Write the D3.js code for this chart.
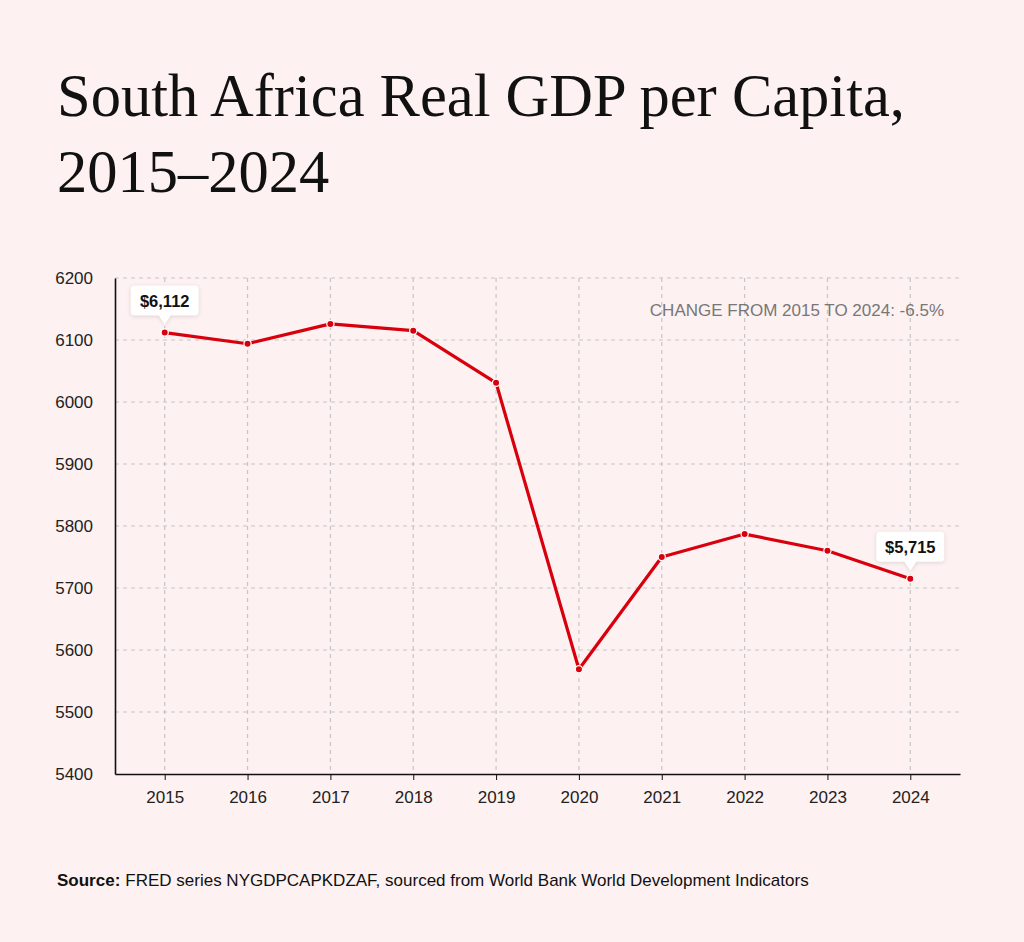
<!DOCTYPE html>
<html>
<head>
<meta charset="utf-8">
<script src="https://cdn.jsdelivr.net/npm/d3@7"></script>
<style>
  html, body { margin: 0; padding: 0; background: #fdf1f1; }
  svg { display: block; font-family: "Liberation Sans", Arial, sans-serif; }
  .title { font-family: "Liberation Serif", "Times New Roman", serif; font-size: 60.5px; fill: #111; }
  .grid line { stroke: #c6c6c6; stroke-dasharray: 4,4; stroke-width: 1.2; }
  .axis text { font-size: 17px; fill: #222; }
  .axis path, .axis line { stroke: #111; }
</style>
</head>
<body>
<svg id="chart" width="1024" height="942"></svg>
<script>
// data
const years = [2015, 2016, 2017, 2018, 2019, 2020, 2021, 2022, 2023, 2024];
const gdp = [6112, 6094, 6126, 6115, 6031, 5569, 5750, 5787, 5760, 5715];
const yTicks = [5400, 5500, 5600, 5700, 5800, 5900, 6000, 6100, 6200];
const callouts = [2015, 2024];

const W = 1024, H = 942;
const margin = {top: 278, right: 64, bottom: 168, left: 115};
const svg = d3.select("#chart");

svg.append("rect").attr("width", W).attr("height", H).attr("fill", "#fdf1f1");

// title
const title = svg.append("text").attr("class", "title").attr("x", 57).attr("y", 116);
title.append("tspan").attr("x", 57).text("South Africa Real GDP per Capita,");
title.append("tspan").attr("x", 57).attr("dy", 76).text("2015\u20132024");

const x = d3.scalePoint()
    .domain(years)
    .range([margin.left, W - margin.right])
    .padding(0.6);

const y = d3.scaleLinear()
    .domain([5400, 6200])
    .range([H - margin.bottom, margin.top]);

// grid
const grid = svg.append("g").attr("class", "grid");
grid.selectAll(".h").data(yTicks.slice(1)).join("line")
    .attr("x1", margin.left).attr("x2", W - margin.right)
    .attr("y1", d => y(d)).attr("y2", d => y(d));
grid.selectAll(".v").data(years).join("line")
    .attr("x1", d => x(d)).attr("x2", d => x(d))
    .attr("y1", margin.top).attr("y2", H - margin.bottom);

// axes
const yAxis = svg.append("g").attr("class", "axis")
    .attr("transform", `translate(${margin.left},0)`)
    .call(d3.axisLeft(y).tickValues(yTicks).tickSize(0).tickPadding(22).tickFormat(d3.format("d")));
yAxis.select(".domain").attr("stroke-width", 1.6);

const xAxis = svg.append("g").attr("class", "axis")
    .attr("transform", `translate(0,${H - margin.bottom})`)
    .call(d3.axisBottom(x).tickSize(6).tickPadding(11).tickSizeOuter(0));
xAxis.select(".domain").attr("stroke-width", 1.6);

// line
const line = d3.line()
    .x((d, i) => x(years[i]))
    .y(d => y(d));

svg.append("path")
    .datum(gdp)
    .attr("fill", "none")
    .attr("stroke", "#d9000d")
    .attr("stroke-width", 3.2)
    .attr("stroke-linejoin", "round")
    .attr("d", line);

svg.selectAll(".dot").data(gdp).join("circle")
    .attr("cx", (d, i) => x(years[i]))
    .attr("cy", d => y(d))
    .attr("r", 3.6)
    .attr("fill", "#d9000d")
    .attr("stroke", "#fff")
    .attr("stroke-width", 1.2);

// callout boxes
const fmt = d3.format("$,");
callouts.forEach(yr => {
    const i = years.indexOf(yr);
    const cx = x(yr), cy = y(gdp[i]);
    const g = svg.append("g").attr("transform", `translate(${cx},${cy - 8})`);
    const bw = 68, bh = 30;
    g.append("path")
        .attr("d", `M${-bw/2 + 4},${-bh - 9} H${bw/2 - 4} Q${bw/2},${-bh - 9} ${bw/2},${-bh - 5} V${-13} Q${bw/2},${-9} ${bw/2 - 4},${-9} H6 L0,0 L-6,-9 H${-bw/2 + 4} Q${-bw/2},-9 ${-bw/2},-13 V${-bh - 5} Q${-bw/2},${-bh - 9} ${-bw/2 + 4},${-bh - 9} Z`)
        .attr("fill", "#fff")
        .style("filter", "drop-shadow(0 1px 2px rgba(0,0,0,0.12))");
    g.append("text")
        .attr("x", 0).attr("y", -18)
        .attr("text-anchor", "middle")
        .attr("font-size", 16.5).attr("font-weight", "bold").attr("fill", "#111")
        .text(fmt(gdp[i]));
});

// change annotation
const change = (gdp[gdp.length - 1] / gdp[0] - 1) * 100;
svg.append("text")
    .attr("x", 944).attr("y", 316)
    .attr("text-anchor", "end")
    .attr("font-size", 17).attr("fill", "#777")
    .text(`CHANGE FROM ${years[0]} TO ${years[years.length - 1]}: ${change.toFixed(1)}%`);

// source
const src = svg.append("text").attr("x", 57).attr("y", 886).attr("font-size", 17).attr("fill", "#111");
src.append("tspan").attr("font-weight", "bold").text("Source:");
src.append("tspan").attr("dx", 5).text("FRED series NYGDPCAPKDZAF, sourced from World Bank World Development Indicators");
</script>
</body>
</html>
